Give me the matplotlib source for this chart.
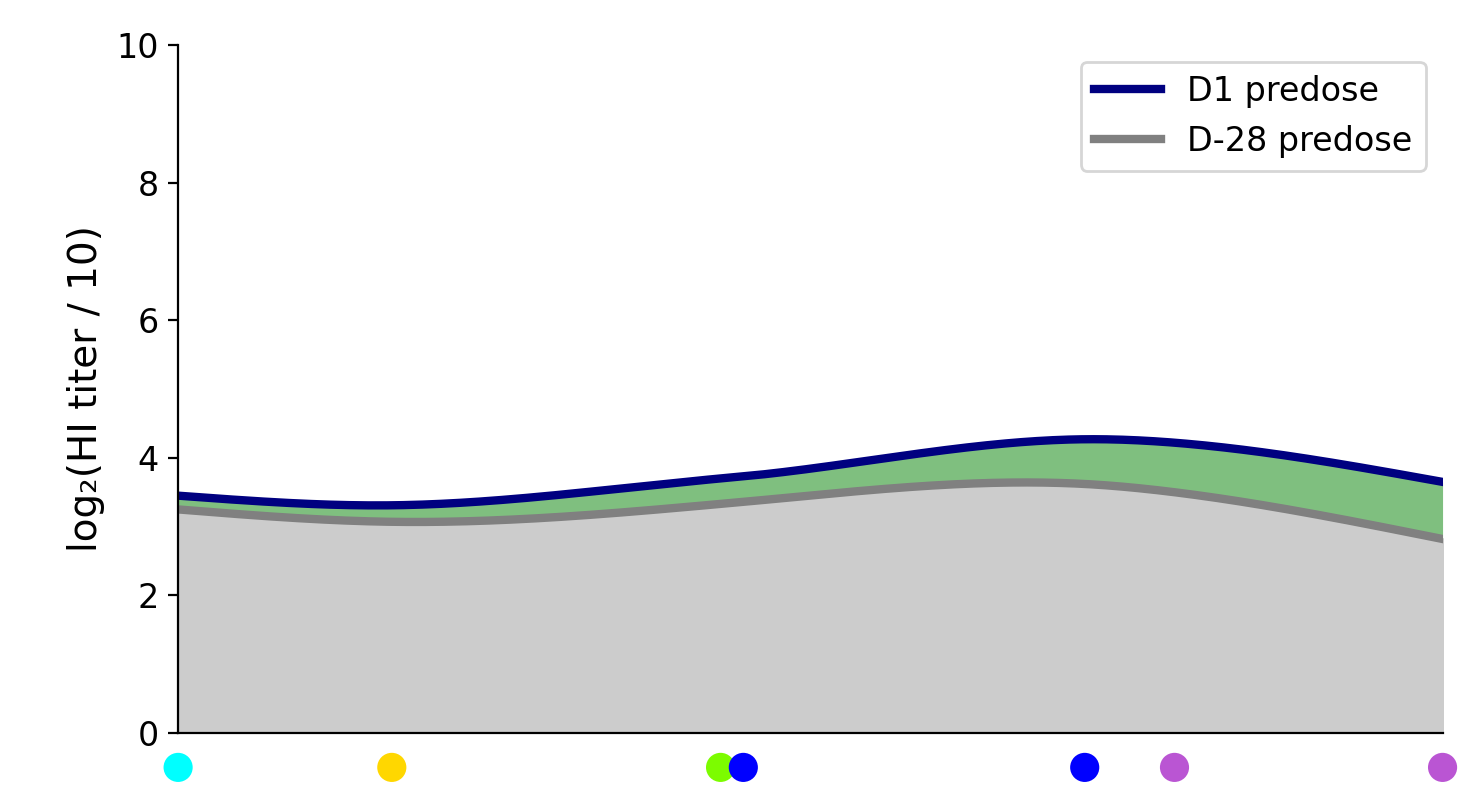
import numpy as np
import matplotlib.pyplot as plt

# positions of the strains along the x axis (0..100)
xpos = [0, 16.9, 42.9, 44.7, 71.7, 78.8, 100]
dot_colors = ['cyan', 'gold', 'lawngreen', 'blue', 'blue', 'mediumorchid', 'mediumorchid']
d1_vals = [3.45, 3.31, 3.70, 3.73, 4.27, 4.22, 3.65]
d28_vals = [3.25, 3.07, 3.33, 3.36, 3.62, 3.50, 2.82]


def natural_spline(x, y, xs):
    x = np.asarray(x, float); y = np.asarray(y, float)
    n = len(x)
    h = np.diff(x)
    A = np.zeros((n, n)); b = np.zeros(n)
    A[0, 0] = A[-1, -1] = 1
    for i in range(1, n - 1):
        A[i, i - 1] = h[i - 1]
        A[i, i] = 2 * (h[i - 1] + h[i])
        A[i, i + 1] = h[i]
        b[i] = 6 * ((y[i + 1] - y[i]) / h[i] - (y[i] - y[i - 1]) / h[i - 1])
    m = np.linalg.solve(A, b)
    idx = np.clip(np.searchsorted(x, xs) - 1, 0, n - 2)
    t = xs - x[idx]; hi = h[idx]
    a = y[idx]
    bb = (y[idx + 1] - y[idx]) / hi - hi * (2 * m[idx] + m[idx + 1]) / 6
    c = m[idx] / 2
    d = (m[idx + 1] - m[idx]) / (6 * hi)
    return a + bb * t + c * t ** 2 + d * t ** 3


xs = np.linspace(0, 100, 400)
d1 = natural_spline(xpos, d1_vals, xs)
d28 = natural_spline(xpos, d28_vals, xs)

fig = plt.figure(figsize=(7.36, 3.94), dpi=200)
ax = fig.add_axes([0.121, 0.0698, 0.859, 0.873])

ax.fill_between(xs, 0, d28, color='#cccccc')
ax.fill_between(xs, d28, d1, color='green', alpha=0.5, linewidth=0)
ax.plot(xs, d1, color='navy', lw=3, label='D1 predose')
ax.plot(xs, d28, color='gray', lw=3, label='D-28 predose')

ax.scatter(xpos, [-0.5] * len(xpos), c=dot_colors, s=90, clip_on=False, zorder=5)

ax.set_xlim(0, 100)
ax.set_ylim(0, 10)
ax.set_xticks(xpos)
ax.set_xticklabels([])
ax.tick_params(axis='x', length=0)
ax.set_yticks([0, 2, 4, 6, 8, 10])
ax.tick_params(labelsize=12)
ax.set_ylabel('log₂(HI titer / 10)', fontsize=14)
for s in ['top', 'right']:
    ax.spines[s].set_visible(False)
ax.legend(fontsize=12, loc='upper right')

plt.savefig('out.png', dpi=200)
